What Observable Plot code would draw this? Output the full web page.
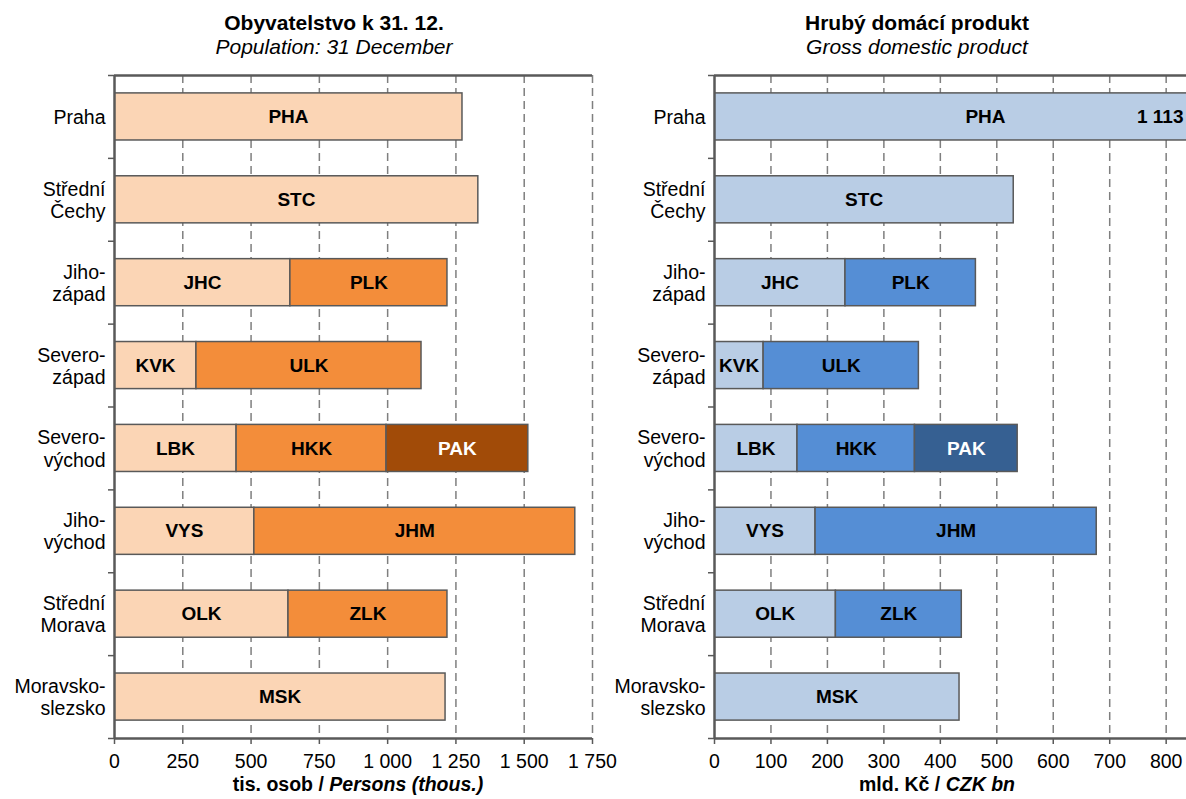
<!DOCTYPE html>
<html>
<head>
<meta charset="utf-8">
<script src="https://cdn.jsdelivr.net/npm/d3@7"></script>
<script src="https://cdn.jsdelivr.net/npm/@observablehq/plot@0.6"></script>
<style>
  html, body { margin: 0; padding: 0; background: #fff; }
  body { width: 1186px; height: 799px; overflow: hidden; position: relative; font-family: "Liberation Sans", Arial, sans-serif; color: #000; }
  .panel { position: absolute; top: 0; }
  .panel svg { max-width: none !important; }
  .title { position: absolute; font-size: 21px; text-align: center; white-space: nowrap; transform: translateX(-50%); line-height: 24px; }
  .title b { display: block; }
  .title i { display: block; }
  .xlabel { position: absolute; font-size: 19.5px; line-height: 23px; font-weight: bold; white-space: nowrap; transform: translateX(-50%); }
</style>
</head>
<body>
<div class="title" style="left:334px; top:11px;"><b>Obyvatelstvo k 31. 12.</b><i>Population: 31 December</i></div>
<div class="title" style="left:917px; top:11px;"><b>Hrubý domácí produkt</b><i>Gross domestic product</i></div>
<div id="left" class="panel" style="left:0px; width:600px;"></div>
<div id="right" class="panel" style="left:600px; width:656px;"></div>
<div class="xlabel" style="left:358px; top:773px;">tis. osob / <i>Persons (thous.)</i></div>
<div class="xlabel" style="left:937px; top:773px;">mld. Kč / <i>CZK bn</i></div>
<script>
// ---- data ----
const regionLabels = ["Praha", "Střední\nČechy", "Jiho-\nzápad", "Severo-\nzápad", "Severo-\nvýchod", "Jiho-\nvýchod", "Střední\nMorava", "Moravsko-\nslezsko"];
const krajCodes = [["PHA"], ["STC"], ["JHC", "PLK"], ["KVK", "ULK"], ["LBK", "HKK", "PAK"], ["VYS", "JHM"], ["OLK", "ZLK"], ["MSK"]];
const population = [[1274], [1332], [644, 575], [300, 824], [447, 549, 519], [512, 1175], [637, 582], [1212]];
const gdp = [[1113], [530], [232, 231], [87, 275], [147, 208, 182], [179, 498], [215, 223], [434]];
const popTicks = [0, 250, 500, 750, 1000, 1250, 1500, 1750];
const gdpTicks = [0, 100, 200, 300, 400, 500, 600, 700, 800];
const popColors = ["#FBD5B5", "#F38D3A", "#A14B08"];
const gdpColors = ["#B9CDE5", "#558ED5", "#366092"];

const fmt = n => String(n).replace(/\B(?=(\d{3})+(?!\d))/g, " ");
const AXIS = "#595959";

function makeRows(values) {
  const rows = [];
  values.forEach((vals, i) => {
    let cum = 0;
    vals.forEach((v, j) => {
      rows.push({region: i, code: krajCodes[i][j], start: cum, end: cum + v, value: v, shade: j});
      cum += v;
    });
  });
  return rows;
}

function panel({values, colors, domainMax, ticks, width, marginRight, extra = []}) {
  const rows = makeRows(values);
  const vis = d => Math.min(d.end, domainMax);
  const half = 0.284;
  return Plot.plot({
    width, height: 770,
    marginTop: 75, marginBottom: 32, marginLeft: 114, marginRight,
    style: {fontFamily: "'Liberation Sans', Arial, sans-serif", fontSize: "19.5px", color: "#000", background: "transparent", overflow: "visible"},
    x: {domain: [0, domainMax], axis: null, label: null},
    y: {domain: [7.5, -0.5], axis: null, label: null},
    marks: [
      Plot.ruleX(ticks.filter(t => t > 0), {stroke: "#7f7f7f", strokeWidth: 1.5, strokeDasharray: "8,5"}),
      Plot.rectX(rows, {x1: "start", x2: vis, y1: d => d.region - half, y2: d => d.region + half,
        fill: d => colors[d.shade], stroke: "#595959", strokeWidth: 1.5, clip: true}),
      Plot.text(rows, {x: d => (d.start + vis(d)) / 2, y: "region", text: "code",
        fill: d => d.shade === 2 ? "#fff" : "#000", fontWeight: "bold", fontSize: 19}),
      ...extra,
      Plot.ruleY([-0.5, 7.5], {stroke: AXIS, strokeWidth: 2.5}),
      Plot.ruleX([0], {stroke: AXIS, strokeWidth: 2.5}),
      Plot.axisX({ticks, tickFormat: fmt, tickSize: 6, tickPadding: 10, stroke: AXIS, strokeWidth: 1.5, fontSize: 19.5, label: null}),
      Plot.axisY({ticks: [-0.5, 0.5, 1.5, 2.5, 3.5, 4.5, 5.5, 6.5, 7.5], tickFormat: () => "", tickSize: 6, stroke: AXIS, strokeWidth: 1.5, label: null}),
      Plot.axisY({ticks: d3.range(regionLabels.length), tickFormat: i => regionLabels[i], tickSize: 0, tickPadding: 9, lineHeight: 1.13, fontSize: 19.5, label: null})
    ]
  });
}

document.getElementById("left").append(panel({
  values: population, colors: popColors, domainMax: 1750, ticks: popTicks, width: 600, marginRight: 8
}));

// Praha GDP exceeds the axis: bar is cut at the chart edge and its value is written inside
const gdpVisibleMax = 836;
document.getElementById("right").append(panel({
  values: gdp, colors: gdpColors, domainMax: 960, ticks: gdpTicks, width: 656, marginRight: 0,
  extra: [Plot.text([{region: 0, v: gdp[0][0]}], {x: gdpVisibleMax, y: "region", text: d => fmt(d.v),
    textAnchor: "end", dx: -3, fontWeight: "bold", fontSize: 19})]
}));
</script>
</body>
</html>
